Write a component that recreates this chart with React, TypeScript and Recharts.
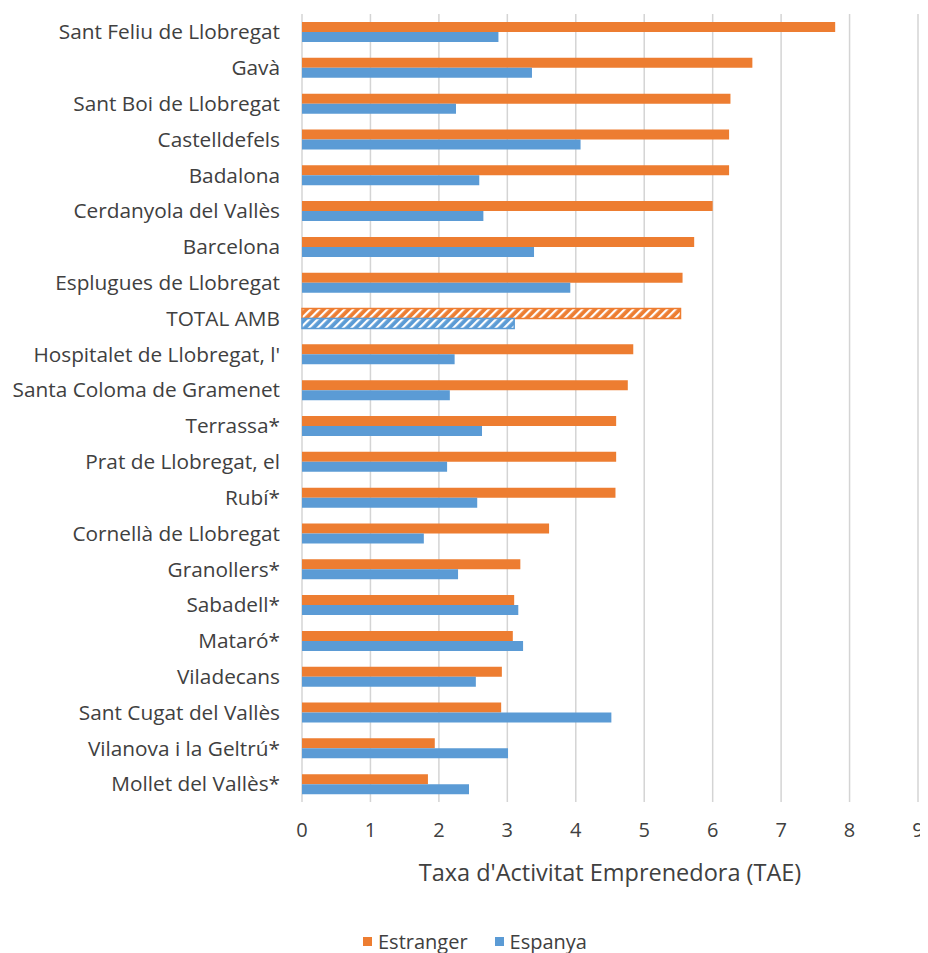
import React from 'react';
import { BarChart, Bar, XAxis, YAxis, CartesianGrid, Legend, Cell } from 'recharts';

const categories = [
  'Sant Feliu de Llobregat', 'Gavà', 'Sant Boi de Llobregat', 'Castelldefels', 'Badalona',
  'Cerdanyola del Vallès', 'Barcelona', 'Esplugues de Llobregat', 'TOTAL AMB',
  "Hospitalet de Llobregat, l'", 'Santa Coloma de Gramenet', 'Terrassa*', 'Prat de Llobregat, el',
  'Rubí*', 'Cornellà de Llobregat', 'Granollers*', 'Sabadell*', 'Mataró*', 'Viladecans',
  'Sant Cugat del Vallès', 'Vilanova i la Geltrú*', 'Mollet del Vallès*',
];
const estranger = [7.79, 6.58, 6.26, 6.24, 6.24, 6.0, 5.73, 5.56, 5.53, 4.84, 4.76, 4.59, 4.59, 4.58, 3.61, 3.19, 3.1, 3.08, 2.92, 2.91, 1.94, 1.84];
const espanya = [2.87, 3.36, 2.25, 4.07, 2.59, 2.65, 3.39, 3.92, 3.1, 2.23, 2.16, 2.63, 2.12, 2.56, 1.78, 2.28, 3.16, 3.23, 2.54, 4.52, 3.01, 2.44];
const xTicks = [0, 1, 2, 3, 4, 5, 6, 7, 8, 9];
const totalName = 'TOTAL AMB';

const data = categories.map((name, i) => ({ name, estranger: estranger[i], espanya: espanya[i] }));

const ORANGE = '#ED7D31';
const BLUE = '#5B9BD5';
const FONT = '"Open Sans", Lato, sans-serif';

const renderLegend = () => (
  <div style={{ display: 'flex', justifyContent: 'center', fontFamily: FONT, fontSize: 20, color: '#404040', paddingLeft: 14 }}>
    <span style={{ display: 'flex', alignItems: 'center', marginRight: 27 }}>
      <span style={{ width: 9, height: 9, background: ORANGE, display: 'inline-block', marginRight: 6 }} />Estranger
    </span>
    <span style={{ display: 'flex', alignItems: 'center' }}>
      <span style={{ width: 9, height: 9, background: BLUE, display: 'inline-block', marginRight: 6 }} />Espanya
    </span>
  </div>
);

export default function App() {
  return (
    <>
      <style>{'body{margin-bottom:0}#root{width:920px;height:945px;overflow:hidden}'}</style>
      <BarChart
        width={920}
        height={945}
        data={data}
        layout="vertical"
        margin={{ top: 6, right: 10, left: 0, bottom: 51 }}
        barGap={0}
      >
        <defs>
          <pattern id="hatchO" patternUnits="userSpaceOnUse" width="6" height="6" patternTransform="rotate(45)">
            <rect width="6" height="6" fill={ORANGE} />
            <rect x="0" y="0" width="2.2" height="6" fill="#ffffff" />
          </pattern>
          <pattern id="hatchB" patternUnits="userSpaceOnUse" width="6" height="6" patternTransform="rotate(45)">
            <rect width="6" height="6" fill={BLUE} />
            <rect x="0" y="0" width="2.2" height="6" fill="#ffffff" />
          </pattern>
        </defs>
        <CartesianGrid horizontal={false} stroke="#d4d4d4" strokeWidth={1.5} />
        <XAxis
          type="number"
          domain={[0, 9]}
          ticks={xTicks}
          axisLine={false}
          tickLine={false}
          tickMargin={15}
          height={100}
          tick={{ fontFamily: FONT, fontSize: 20, fill: '#404040' }}
          label={{ value: "Taxa d'Activitat Emprenedora (TAE)", position: 'insideBottom', offset: 21, style: { fontFamily: FONT, fontSize: 23.5, fill: '#404040' } }}
        />
        <YAxis
          type="category"
          dataKey="name"
          width={294}
          axisLine={false}
          tickLine={false}
          tickMargin={16}
          interval={0}
          tick={{ fontFamily: FONT, fontSize: 20.8, fill: '#404040' }}
        />
        <Legend verticalAlign="middle" align="center" layout="horizontal" content={renderLegend}
          wrapperStyle={{ top: 920, left: 0, width: 920 }} />
        <Bar dataKey="estranger" name="Estranger" fill={ORANGE} barSize={10} isAnimationActive={false}>
          {data.map((d) => (
            <Cell key={d.name} fill={d.name === totalName ? 'url(#hatchO)' : ORANGE} stroke={d.name === totalName ? ORANGE : 'none'} strokeWidth={1.5} />
          ))}
        </Bar>
        <Bar dataKey="espanya" name="Espanya" fill={BLUE} barSize={10} isAnimationActive={false}>
          {data.map((d) => (
            <Cell key={d.name} fill={d.name === totalName ? 'url(#hatchB)' : BLUE} stroke={d.name === totalName ? BLUE : 'none'} strokeWidth={1.5} />
          ))}
        </Bar>
      </BarChart>
    </>
  );
}
